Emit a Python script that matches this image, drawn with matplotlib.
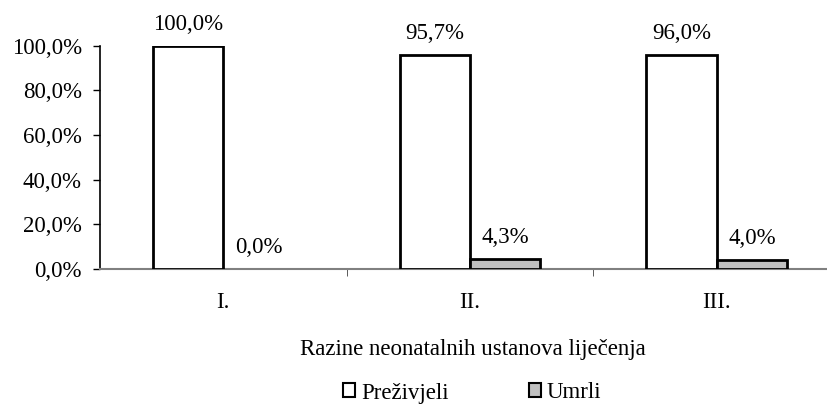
import matplotlib.pyplot as plt
import numpy as np
from matplotlib.patches import Patch

plt.rcParams['font.family'] = ['Liberation Serif', 'DejaVu Serif']

categories = ['I.', 'II.', 'III.']
prezivjeli = [100.0, 95.7, 96.0]
umrli = [0.0, 4.3, 4.0]
yticks = [0, 20, 40, 60, 80, 100]

fs = 16.5

fig = plt.figure(figsize=(8.28, 4.07), dpi=100)
ax = fig.add_axes([100 / 828, 138.3 / 407, 740 / 828, 223 / 407])

x = np.arange(len(categories))
w = 0.285
ax.bar(x - w / 2, prezivjeli, w, color='white', edgecolor='black', linewidth=2, zorder=3)
# zero-height bars draw no outline in the original
lw_umrli = [2 if v > 0 else 0 for v in umrli]
ax.bar(x + w / 2, umrli, w, color='#c0c0c0', edgecolor='black', linewidth=lw_umrli, zorder=3)

for xi, v in zip(x - w / 2, prezivjeli):
    ax.annotate(f'{v:.1f}%'.replace('.', ','), (xi, v), xytext=(0, 8),
                textcoords='offset points', ha='center', va='bottom', fontsize=fs)
for xi, v in zip(x + w / 2, umrli):
    ax.annotate(f'{v:.1f}%'.replace('.', ','), (xi, v), xytext=(0, 8),
                textcoords='offset points', ha='center', va='bottom', fontsize=fs)

ax.set_xlim(-0.5, 2.5)
ax.set_ylim(0, 100)
ax.set_yticks(yticks)
ax.set_yticklabels([f'{t:.1f}%'.replace('.', ',') for t in yticks], fontsize=fs)
ax.tick_params(axis='y', direction='out', length=5, width=1, pad=8)

ax.set_xticks(x)
ax.set_xticklabels(categories, fontsize=fs)
ax.set_xticks([0.5, 1.5], minor=True)
ax.tick_params(axis='x', which='major', length=0, pad=17)
ax.tick_params(axis='x', which='minor', direction='out', length=5, color='#404040')

for s in ['top', 'right']:
    ax.spines[s].set_visible(False)
ax.spines['bottom'].set_color('#808080')
ax.spines['bottom'].set_linewidth(1.5)
ax.spines['left'].set_color('black')
ax.spines['left'].set_linewidth(1.2)

fig.text(473 / 828, 1 - 349 / 407, 'Razine neonatalnih ustanova liječenja',
         ha='center', va='center', fontsize=fs)

handles = [Patch(facecolor='white', edgecolor='black', linewidth=1.5, label='Preživjeli'),
           Patch(facecolor='#c0c0c0', edgecolor='black', linewidth=1.5, label='Umrli')]
fig.legend(handles=handles, loc='center', bbox_to_anchor=(472 / 828, 1 - 393 / 407),
           ncol=2, frameon=False, fontsize=fs, handlelength=0.55, handleheight=0.55,
           handletextpad=0.25, columnspacing=3.5)

fig.savefig('out.png', dpi=100)
